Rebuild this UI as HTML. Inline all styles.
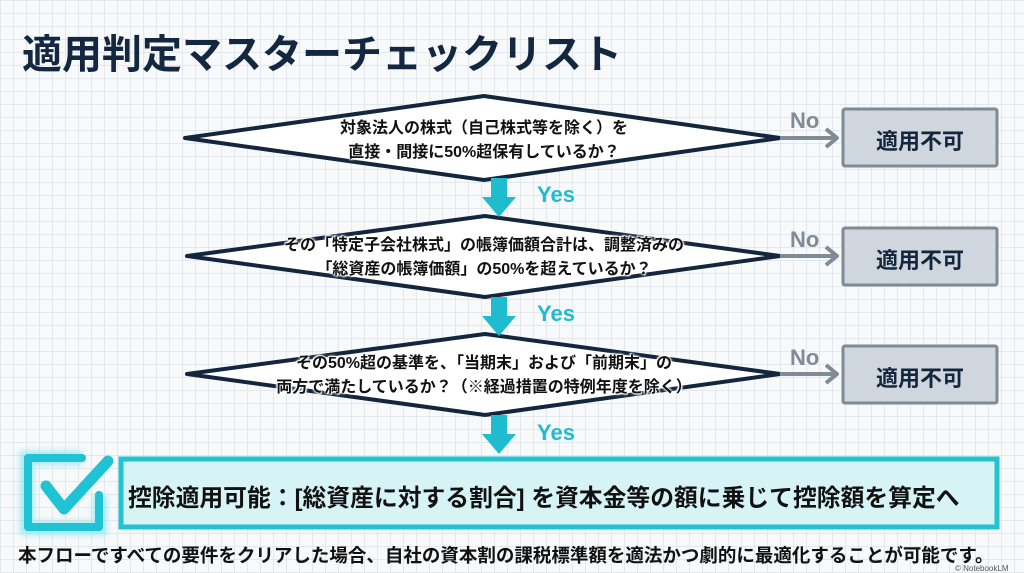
<!DOCTYPE html>
<html><head><meta charset="utf-8"><style>
body{margin:0;width:1024px;height:573px;overflow:hidden;background-color:#f7f9fa;
background-image:linear-gradient(#e3e8ec 1px,transparent 1px),linear-gradient(90deg,#e3e8ec 1px,transparent 1px);background-size:13px 13px;
font-family:"Liberation Sans","Noto Sans CJK JP",sans-serif;position:relative}
.t{position:absolute;white-space:nowrap;font-weight:bold}
.h{text-shadow:0 0 3px #fff,0 0 3px #fff,0 0 2px #fff,1px 1px 1px #fff,-1px -1px 1px #fff}
</style></head><body>
<svg width="1024" height="573" style="position:absolute;left:0;top:0">
<defs><filter id="g" x="-20%" y="-20%" width="140%" height="140%"><feGaussianBlur stdDeviation="3"/></filter></defs>
<g stroke="#13263d" stroke-width="4" fill="#fff" stroke-linejoin="round">
<polygon points="185,138 484,96 780,138 484,180"/>
<polygon points="187,256 485,216 780,256 485,297"/>
<polygon points="187,374 485,334 780,374 485,415"/>
</g>
<g fill="#1fbcd0">
<polygon points="491,178 507,178 507,197 516,197 499,217 482,197 491,197"/>
<polygon points="491,297 507,297 507,316 516,316 499,336 482,316 491,316"/>
<polygon points="491,415 507,415 507,434 516,434 499,454 482,434 491,434"/>
</g>
<g stroke="#7f8b96" stroke-width="4" fill="none" stroke-linejoin="round">
<line x1="780" y1="138" x2="836" y2="138"/><polyline points="826,129 837,138 826,147"/>
<line x1="780" y1="256" x2="836" y2="256"/><polyline points="826,247 837,256 826,265"/>
<line x1="780" y1="374" x2="836" y2="374"/><polyline points="826,365 837,374 826,383"/>
</g>
<g fill="#cfd6dd" stroke="#7f8a94" stroke-width="3">
<rect x="843" y="109" width="154" height="57" rx="2"/>
<rect x="843" y="228" width="154" height="57" rx="2"/>
<rect x="843" y="346" width="154" height="57" rx="2"/>
</g>
<rect x="121" y="459" width="876" height="68" fill="#d6f3f6" stroke="#22c3d3" stroke-width="5"/>
<g stroke="#7fe6ef" stroke-width="14" fill="none" filter="url(#g)" opacity="0.7">
<polyline points="82,458 27,458 27,528 100,528 100,495"/>
</g>
<g stroke="#1fc3d3" stroke-width="8" fill="none" stroke-linecap="round" stroke-linejoin="round">
<polyline points="82,458 28,458 28,527 99,527 99,495"/>
<polyline points="46,486 64,509 108,461" stroke-width="11"/>
</g>
</svg>
<div class="t" style="left:22px;top:22px;font-size:40px;color:#132840;">適用判定マスターチェックリスト</div>
<div class="t h" style="left:336px;top:117px;font-size:16px;color:#111;line-height:24px;text-align:center;width:296px">対象法人の株式（自己株式等を除く）を<br>直接・間接に50%超保有しているか？</div>
<div class="t h" style="left:264px;top:234px;font-size:16px;color:#111;line-height:24px;text-align:center;width:440px">その「特定子会社株式」の帳簿価額合計は、調整済みの<br>「総資産の帳簿価額」の50%を超えているか？</div>
<div class="t h" style="left:264px;top:352px;font-size:16px;color:#111;line-height:24px;text-align:center;width:440px">その50%超の基準を、「当期末」および「前期末」の<br>両方で満たしているか？（※経過措置の特例年度を除く）</div>
<div class="t" style="left:537px;top:182px;font-size:22px;color:#1fbcd0">Yes</div>
<div class="t" style="left:537px;top:301px;font-size:22px;color:#1fbcd0">Yes</div>
<div class="t" style="left:537px;top:420px;font-size:22px;color:#1fbcd0">Yes</div>
<div class="t" style="left:790px;top:108px;font-size:22px;color:#7f8b96">No</div>
<div class="t" style="left:790px;top:227px;font-size:22px;color:#7f8b96">No</div>
<div class="t" style="left:790px;top:345px;font-size:22px;color:#7f8b96">No</div>
<div class="t" style="left:843px;top:124px;width:154px;text-align:center;font-size:22px;color:#13263d">適用不可</div>
<div class="t" style="left:843px;top:243px;width:154px;text-align:center;font-size:22px;color:#13263d">適用不可</div>
<div class="t" style="left:843px;top:361px;width:154px;text-align:center;font-size:22px;color:#13263d">適用不可</div>
<div class="t" style="left:128px;top:478px;font-size:23.8px;color:#111">控除適用可能：[総資産に対する割合] を資本金等の額に乗じて控除額を算定へ</div>
<div class="t" style="left:18px;top:542px;font-size:18.5px;color:#111">本フローですべての要件をクリアした場合、自社の資本割の課税標準額を適法かつ劇的に最適化することが可能です。</div>
<div class="t" style="left:955px;top:564px;font-size:8px;color:#555;font-weight:normal">© NotebookLM</div>
</body></html>
